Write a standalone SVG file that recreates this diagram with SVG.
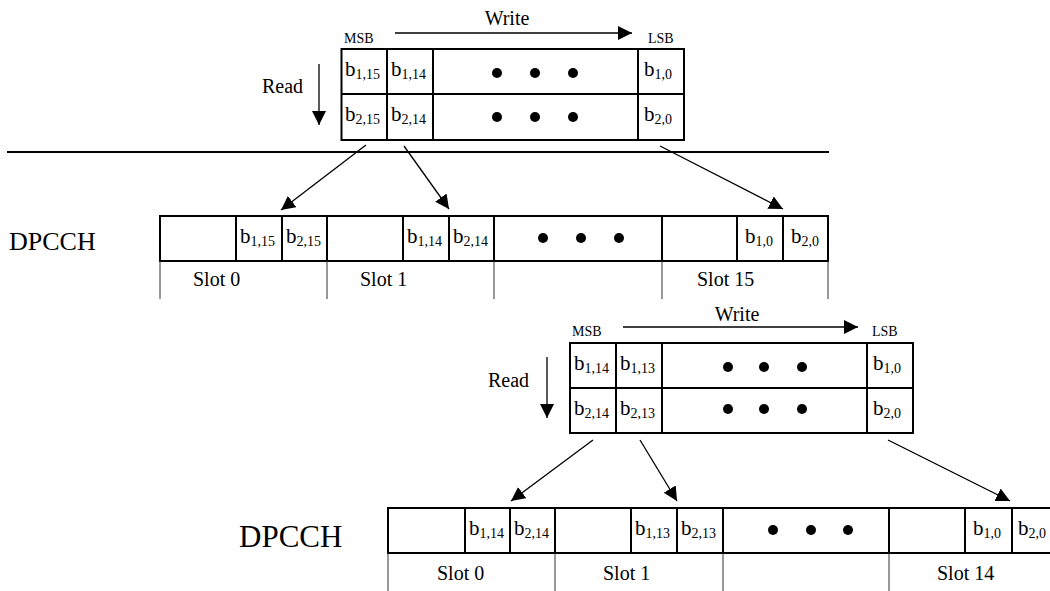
<svg xmlns="http://www.w3.org/2000/svg" width="1050" height="591" viewBox="0 0 1050 591">
<style>
text{font-family:"Liberation Serif","Times New Roman",serif;fill:#000}
.b{font-size:21px}
.s{font-size:14px}
.lbl{font-size:20px}
.sm{font-size:14px}
.box{fill:#fff;stroke:#000;stroke-width:2}
.ln{stroke:#000;stroke-width:2;fill:none}
.thin{stroke:#333;stroke-width:1;fill:none}
.ar{stroke:#000;stroke-width:1.3;fill:none;marker-end:url(#ah)}
.dot{fill:#000}
</style>
<defs>
<marker id="ah" markerUnits="userSpaceOnUse" markerWidth="16" markerHeight="16" refX="14" refY="7" orient="auto">
<path d="M0,0 L14,7 L0,14 Z" fill="#000"/>
</marker>
</defs>

<g id="top-block">
<rect class="box" x="341.5" y="49" width="342.5" height="91"/>
<line class="ln" x1="341.5" y1="94" x2="684" y2="94"/>
<line class="ln" x1="387" y1="49" x2="387" y2="140"/>
<line class="ln" x1="433" y1="49" x2="433" y2="140"/>
<line class="ln" x1="638" y1="49" x2="638" y2="140"/>
<text class="b" x="345" y="76">b<tspan class="s" dy="3">1,15</tspan></text>
<text class="b" x="391" y="76">b<tspan class="s" dy="3">1,14</tspan></text>
<text class="b" x="644" y="76">b<tspan class="s" dy="3">1,0</tspan></text>
<text class="b" x="345" y="121">b<tspan class="s" dy="3">2,15</tspan></text>
<text class="b" x="391" y="121">b<tspan class="s" dy="3">2,14</tspan></text>
<text class="b" x="644" y="121">b<tspan class="s" dy="3">2,0</tspan></text>
<circle class="dot" cx="497" cy="73" r="5"/><circle class="dot" cx="535" cy="73" r="5"/><circle class="dot" cx="573" cy="73" r="5"/>
<circle class="dot" cx="497" cy="117" r="5"/><circle class="dot" cx="535" cy="117" r="5"/><circle class="dot" cx="573" cy="117" r="5"/>
<text class="sm" x="344" y="43">MSB</text>
<text class="sm" x="648" y="43">LSB</text>
<text class="lbl" x="507" y="25" text-anchor="middle">Write</text>
<text class="lbl" x="262" y="93">Read</text>
</g>

<g id="separator">
<line class="ln" x1="7" y1="152" x2="829" y2="152"/>
</g>

<g id="dpcch-1">
<text x="9" y="250" style="font-size:26px">DPCCH</text>
<rect class="box" x="160" y="216" width="668" height="45"/>
<line class="ln" x1="236" y1="216" x2="236" y2="261"/>
<line class="ln" x1="282" y1="216" x2="282" y2="261"/>
<line class="ln" x1="327" y1="216" x2="327" y2="261"/>
<line class="ln" x1="403" y1="216" x2="403" y2="261"/>
<line class="ln" x1="449" y1="216" x2="449" y2="261"/>
<line class="ln" x1="494" y1="216" x2="494" y2="261"/>
<line class="ln" x1="662" y1="216" x2="662" y2="261"/>
<line class="ln" x1="737" y1="216" x2="737" y2="261"/>
<line class="ln" x1="783" y1="216" x2="783" y2="261"/>
<text class="b" x="240" y="243">b<tspan class="s" dy="3">1,15</tspan></text>
<text class="b" x="286" y="243">b<tspan class="s" dy="3">2,15</tspan></text>
<text class="b" x="407" y="243">b<tspan class="s" dy="3">1,14</tspan></text>
<text class="b" x="453" y="243">b<tspan class="s" dy="3">2,14</tspan></text>
<text class="b" x="745" y="243">b<tspan class="s" dy="3">1,0</tspan></text>
<text class="b" x="791" y="243">b<tspan class="s" dy="3">2,0</tspan></text>
<circle class="dot" cx="543" cy="238" r="5"/><circle class="dot" cx="581" cy="238" r="5"/><circle class="dot" cx="619" cy="238" r="5"/>
<line class="thin" x1="160" y1="261" x2="160" y2="299"/>
<line class="thin" x1="327" y1="261" x2="327" y2="299"/>
<line class="thin" x1="494" y1="261" x2="494" y2="299"/>
<line class="thin" x1="662" y1="261" x2="662" y2="299"/>
<line class="thin" x1="828" y1="261" x2="828" y2="299"/>
<text class="lbl" x="193" y="286">Slot 0</text>
<text class="lbl" x="360" y="286">Slot 1</text>
<text class="lbl" x="697" y="286">Slot 15</text>
</g>

<g id="bottom-block">
<rect class="box" x="570" y="343" width="343" height="90"/>
<line class="ln" x1="570" y1="388" x2="913" y2="388"/>
<line class="ln" x1="616" y1="343" x2="616" y2="433"/>
<line class="ln" x1="662" y1="343" x2="662" y2="433"/>
<line class="ln" x1="867" y1="343" x2="867" y2="433"/>
<text class="b" x="574" y="370">b<tspan class="s" dy="3">1,14</tspan></text>
<text class="b" x="620" y="370">b<tspan class="s" dy="3">1,13</tspan></text>
<text class="b" x="873" y="370">b<tspan class="s" dy="3">1,0</tspan></text>
<text class="b" x="574" y="415">b<tspan class="s" dy="3">2,14</tspan></text>
<text class="b" x="620" y="415">b<tspan class="s" dy="3">2,13</tspan></text>
<text class="b" x="873" y="415">b<tspan class="s" dy="3">2,0</tspan></text>
<circle class="dot" cx="728" cy="367" r="5"/><circle class="dot" cx="764" cy="367" r="5"/><circle class="dot" cx="802" cy="367" r="5"/>
<circle class="dot" cx="728" cy="409" r="5"/><circle class="dot" cx="764" cy="409" r="5"/><circle class="dot" cx="802" cy="409" r="5"/>
<text class="sm" x="572" y="336">MSB</text>
<text class="sm" x="872" y="336">LSB</text>
<text class="lbl" x="737" y="321" text-anchor="middle">Write</text>
<text class="lbl" x="488" y="387">Read</text>
</g>

<g id="dpcch-2">
<text x="239" y="547" style="font-size:31px">DPCCH</text>
<rect class="box" x="388" y="508" width="669" height="45"/>
<line class="ln" x1="465" y1="508" x2="465" y2="553"/>
<line class="ln" x1="510" y1="508" x2="510" y2="553"/>
<line class="ln" x1="555" y1="508" x2="555" y2="553"/>
<line class="ln" x1="631" y1="508" x2="631" y2="553"/>
<line class="ln" x1="677" y1="508" x2="677" y2="553"/>
<line class="ln" x1="723" y1="508" x2="723" y2="553"/>
<line class="ln" x1="889" y1="508" x2="889" y2="553"/>
<line class="ln" x1="965" y1="508" x2="965" y2="553"/>
<line class="ln" x1="1012" y1="508" x2="1012" y2="553"/>
<text class="b" x="469" y="535">b<tspan class="s" dy="3">1,14</tspan></text>
<text class="b" x="514" y="535">b<tspan class="s" dy="3">2,14</tspan></text>
<text class="b" x="635" y="535">b<tspan class="s" dy="3">1,13</tspan></text>
<text class="b" x="681" y="535">b<tspan class="s" dy="3">2,13</tspan></text>
<text class="b" x="973" y="535">b<tspan class="s" dy="3">1,0</tspan></text>
<text class="b" x="1018" y="535">b<tspan class="s" dy="3">2,0</tspan></text>
<circle class="dot" cx="773" cy="530" r="5"/><circle class="dot" cx="811" cy="530" r="5"/><circle class="dot" cx="848" cy="530" r="5"/>
<line class="thin" x1="388" y1="553" x2="388" y2="591"/>
<line class="thin" x1="555" y1="553" x2="555" y2="591"/>
<line class="thin" x1="723" y1="553" x2="723" y2="591"/>
<line class="thin" x1="889" y1="553" x2="889" y2="591"/>
<text class="lbl" x="437" y="580">Slot 0</text>
<text class="lbl" x="603" y="580">Slot 1</text>
<text class="lbl" x="937" y="580">Slot 14</text>
</g>

<g id="connectors">
<line class="ar" x1="395" y1="33" x2="632" y2="33"/>
<line class="ar" x1="319" y1="64" x2="319" y2="125"/>
<line class="ar" x1="366" y1="145" x2="281" y2="210"/>
<line class="ar" x1="404" y1="146" x2="449" y2="209"/>
<line class="ar" x1="660" y1="146" x2="783" y2="209"/>
<line class="ar" x1="623" y1="327" x2="858" y2="327"/>
<line class="ar" x1="547" y1="357" x2="547" y2="418"/>
<line class="ar" x1="593" y1="440" x2="511" y2="501"/>
<line class="ar" x1="640" y1="440" x2="677" y2="501"/>
<line class="ar" x1="888" y1="440" x2="1010" y2="501"/>
</g>
</svg>
